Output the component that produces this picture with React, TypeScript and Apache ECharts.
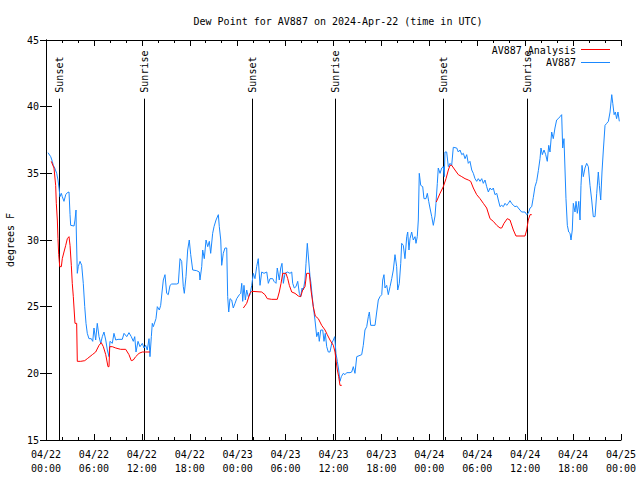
import React, { useEffect, useRef } from "react";
import * as echarts from "echarts";

const TITLE = "Dew Point for AV887 on 2024-Apr-22 (time in UTC)";
const Y_NAME = "degrees F";
const BLUE = "#1a88ff";
const RED = "#ff0000";
const FONT = "DejaVu Sans Mono";

// hours since 2024-04-22 00:00 UTC
const sunHours = [1.69, 12.33, 25.76, 36.25, 49.77, 60.29];
const sunLabels = ["Sunset", "Sunrise", "Sunset", "Sunrise", "Sunset", "Sunrise"];

const av887: [number, number][] = [
  [0.25, 36.55], [0.59, 36.25], [0.79, 35.9], [0.91, 35.6], [1.09, 35.4], [1.34, 35.0], [1.5, 34.5],
  [1.63, 33.9], [1.75, 33.25], [1.92, 33.5], [2.04, 33.25], [2.25, 32.9], [2.47, 33.4], [2.67, 33.55],
  [2.88, 33.6], [3.01, 31.9], [3.09, 31.1], [3.51, 31.05], [3.63, 31.5], [3.76, 32.25], [3.79, 30.75],
  [3.92, 27.5], [4.04, 28.0], [4.26, 28.4], [4.47, 28.1], [4.67, 26.75], [4.85, 25.0], [5.01, 23.75],
  [5.17, 23.0], [5.38, 22.6], [5.67, 22.6], [5.85, 22.4], [6.01, 23.4], [6.22, 22.5], [6.42, 23.75],
  [6.64, 22.75], [6.85, 22.25], [7.05, 22.75], [7.26, 23.1], [7.48, 22.5], [7.68, 21.75], [7.89, 21.25],
  [8.01, 22.4], [8.3, 22.25], [8.51, 23.0], [8.73, 22.5], [9.02, 22.55], [9.55, 22.55], [9.77, 23.0],
  [10.11, 22.75], [10.39, 23.05], [10.68, 22.75], [10.93, 22.4], [11.11, 22.75], [11.27, 21.6],
  [11.52, 22.4], [11.77, 22.0], [12.06, 22.25], [12.27, 21.9], [12.48, 22.1], [12.68, 21.75],
  [12.9, 22.6], [13.02, 21.25], [13.19, 22.75], [13.31, 23.75], [13.44, 23.5], [13.77, 24.1],
  [13.94, 25.0], [14.19, 24.75], [14.36, 25.1], [14.53, 26.1], [14.69, 27.0], [14.9, 27.4],
  [15.11, 26.0], [15.31, 25.9], [15.53, 26.6], [15.74, 26.7], [16.37, 26.7], [16.57, 26.75],
  [16.78, 28.6], [16.99, 28.4], [17.19, 26.5], [17.32, 26.0], [17.53, 27.25], [17.74, 29.25],
  [17.94, 30.0], [18.12, 28.9], [18.37, 27.75], [18.87, 27.7], [19.2, 27.6], [19.28, 27.0],
  [19.5, 28.0], [19.62, 29.25], [19.82, 28.6], [20.04, 30.0], [20.25, 29.5], [20.45, 29.9],
  [20.62, 29.0], [20.87, 30.5], [21.04, 31.0], [21.29, 31.5], [21.58, 31.9], [21.7, 31.0],
  [21.88, 30.0], [22.0, 28.1], [22.2, 29.0], [22.41, 29.4], [22.63, 29.4], [22.75, 25.75],
  [22.88, 24.6], [23.04, 25.6], [23.25, 25.5], [23.45, 24.9], [23.67, 25.25], [23.88, 25.6],
  [24.21, 25.9], [24.38, 26.0], [24.51, 26.75], [24.63, 25.4], [24.79, 26.6], [24.96, 25.5],
  [25.13, 26.25], [25.33, 25.75], [25.54, 25.9], [25.76, 26.6], [25.96, 27.5], [26.17, 27.1],
  [26.38, 28.0], [26.58, 28.6], [26.8, 26.6], [27.01, 27.6], [27.3, 27.5], [27.64, 27.6],
  [27.84, 26.75], [28.05, 27.1], [28.39, 27.1], [28.55, 26.9], [28.8, 26.75], [28.96, 27.9],
  [29.21, 27.0], [29.39, 27.9], [29.55, 28.25], [29.72, 26.75], [29.93, 27.5], [30.22, 27.6],
  [30.55, 27.5], [30.77, 27.6], [30.89, 26.75], [31.09, 26.4], [31.3, 26.5], [31.52, 26.9],
  [31.72, 26.0], [31.89, 25.75], [32.06, 26.4], [32.22, 26.25], [32.43, 27.0], [32.56, 28.25],
  [32.72, 29.75], [32.89, 28.5], [33.06, 27.25], [33.18, 26.75], [33.31, 25.9], [33.47, 25.0],
  [33.68, 24.0], [33.9, 22.75], [34.1, 23.1], [34.22, 22.4], [34.4, 23.25], [34.65, 23.25],
  [34.81, 22.4], [34.97, 23.0], [35.15, 22.0], [35.35, 21.6], [35.56, 21.6], [35.78, 22.25],
  [35.98, 22.5], [36.15, 22.75], [36.31, 21.5], [36.48, 20.9], [36.65, 20.25], [36.81, 19.4],
  [36.98, 19.75], [37.23, 20.0], [37.44, 19.9], [37.65, 20.05], [38.07, 20.05], [38.28, 20.1],
  [38.48, 20.5], [38.69, 20.0], [38.91, 21.25], [39.53, 21.4], [39.73, 22.1], [39.94, 23.25],
  [40.16, 23.5], [40.36, 24.25], [40.49, 24.6], [40.66, 23.6], [41.2, 23.6], [41.41, 24.6],
  [41.61, 25.5], [41.82, 25.75], [42.04, 25.9], [42.16, 27.0], [42.32, 27.4], [42.45, 26.4],
  [42.66, 26.6], [42.86, 25.9], [43.08, 26.5], [43.29, 27.1], [43.49, 27.75], [43.7, 28.9],
  [43.91, 28.0], [44.04, 26.25], [44.24, 26.75], [44.42, 28.25], [44.54, 29.75], [44.74, 29.6],
  [44.95, 28.6], [45.17, 30.25], [45.29, 30.6], [45.45, 29.25], [45.58, 30.1], [45.79, 30.6],
  [45.99, 30.0], [46.21, 30.25], [46.33, 29.75], [46.49, 30.25], [46.62, 31.5], [46.74, 35.0],
  [46.92, 34.1], [47.17, 34.0], [47.33, 33.1], [47.58, 33.1], [47.75, 33.5], [47.92, 32.9],
  [48.08, 32.4], [48.3, 31.75], [48.5, 31.1], [48.71, 31.8], [48.83, 32.75], [49.0, 34.25],
  [49.12, 35.4], [49.34, 35.0], [49.55, 35.4], [49.75, 35.5], [49.87, 34.75], [49.96, 36.6],
  [50.17, 36.6], [50.38, 35.5], [50.59, 35.75], [50.8, 35.6], [51.0, 36.95], [51.43, 36.9],
  [51.63, 36.6], [51.84, 36.75], [52.06, 36.4], [52.26, 36.5], [52.47, 36.1], [52.68, 36.4],
  [52.88, 35.75], [53.09, 35.9], [53.31, 35.25], [53.51, 35.0], [53.72, 34.6], [53.93, 34.4],
  [54.13, 34.6], [54.35, 34.4], [54.56, 34.6], [54.76, 34.25], [54.97, 34.5], [55.18, 34.0],
  [55.39, 33.6], [55.6, 33.9], [55.81, 33.75], [56.01, 33.9], [56.22, 33.4], [56.44, 33.5],
  [56.64, 33.0], [56.85, 32.5], [57.06, 32.6], [57.26, 32.5], [57.48, 32.75], [57.69, 32.6],
  [57.89, 32.75], [58.1, 32.95], [58.31, 32.75], [58.52, 32.6], [58.73, 32.5], [58.94, 32.55],
  [59.14, 32.4], [59.35, 32.25], [59.56, 32.1], [59.98, 32.1], [60.19, 31.9], [60.39, 32.0],
  [60.61, 32.4], [60.82, 32.5], [61.02, 33.2], [61.23, 34.0], [61.44, 34.4], [61.65, 35.2],
  [61.86, 36.1], [61.98, 36.9], [62.15, 36.4], [62.36, 36.75], [62.57, 36.4], [62.77, 35.9],
  [62.95, 37.1], [63.11, 36.6], [63.32, 38.1], [63.52, 37.6], [63.73, 38.4], [63.94, 39.0],
  [64.15, 39.1], [64.36, 39.25], [64.57, 39.4], [64.7, 36.9], [64.86, 37.6], [65.11, 33.1],
  [65.28, 31.1], [65.45, 30.6], [65.62, 30.5], [65.74, 30.0], [65.9, 30.75], [66.03, 32.75],
  [66.24, 32.1], [66.37, 32.9], [66.53, 32.0], [66.71, 32.9], [66.87, 31.5], [66.99, 34.1],
  [67.12, 35.6], [67.28, 34.75], [67.49, 35.4], [67.7, 35.75], [67.91, 35.5], [68.12, 34.1],
  [68.33, 33.0], [68.53, 31.75], [68.75, 31.75], [68.96, 33.5], [69.16, 35.1], [69.29, 34.1],
  [69.46, 33.0], [69.62, 35.1], [69.79, 36.75], [70.0, 38.6], [70.21, 38.75], [70.42, 38.9],
  [70.63, 39.6], [70.84, 40.9], [70.97, 40.25], [71.14, 39.4], [71.29, 39.6], [71.45, 39.1],
  [71.62, 39.6], [71.79, 38.9],
];

const analysisNight1: [number, number][] = [
  [0.66, 35.9], [1.0, 35.4], [1.21, 34.1], [1.29, 32.75], [1.42, 31.5], [1.5, 30.1], [1.59, 28.9],
  [1.72, 28.0], [1.92, 28.0], [2.04, 28.6], [2.25, 29.1], [2.47, 29.6], [2.67, 30.1], [2.88, 30.25],
  [3.01, 29.6], [3.17, 28.1], [3.29, 26.75], [3.42, 25.75], [3.54, 24.6], [3.63, 23.75], [3.84, 23.75],
  [3.92, 20.9], [4.35, 20.9], [4.85, 20.95], [5.17, 21.1], [5.8, 21.4], [6.22, 21.6], [6.64, 22.1],
  [6.92, 22.3], [7.18, 22.0], [7.48, 21.4], [7.76, 20.5], [7.89, 20.5], [7.98, 22.0], [8.3, 22.0],
  [8.73, 21.9], [9.35, 21.8], [9.98, 21.8], [10.39, 21.4], [10.68, 20.95], [10.93, 21.0],
  [11.23, 21.25], [11.65, 21.5], [12.06, 21.6], [12.48, 21.6], [13.02, 21.6],
];

const analysisNight2: [number, number][] = [
  [24.71, 24.9], [25.13, 25.25], [25.54, 26.0], [25.76, 26.15], [27.01, 26.1], [27.42, 25.9],
  [27.71, 25.6], [28.26, 25.55], [28.96, 25.55], [29.21, 26.1], [29.43, 26.75], [29.64, 27.5],
  [30.05, 27.5], [30.27, 27.1], [30.47, 26.6], [30.77, 26.1], [31.18, 26.0], [31.59, 25.8],
  [31.89, 25.75], [32.14, 26.25], [32.43, 26.5], [32.64, 27.5], [32.97, 27.5], [33.18, 26.25],
  [33.47, 25.0], [33.72, 24.3], [34.1, 24.1], [34.52, 23.6], [34.94, 23.25], [35.22, 22.9],
  [35.56, 22.5], [35.98, 22.1], [36.19, 21.6], [36.31, 21.0], [36.48, 20.25], [36.65, 19.75],
  [36.81, 19.1], [37.03, 19.1],
];

const analysisNight3: [number, number][] = [
  [48.87, 32.85], [49.34, 33.5], [49.75, 34.0], [50.09, 34.6], [50.38, 35.25], [50.59, 35.6],
  [50.8, 35.6], [51.21, 35.25], [51.63, 34.9], [52.06, 34.75], [52.47, 34.6], [52.88, 34.5],
  [53.18, 34.4], [53.51, 33.9], [53.93, 33.4], [54.35, 33.1], [54.76, 32.75], [55.18, 32.4],
  [55.6, 31.6], [56.01, 31.4], [56.44, 31.1], [56.85, 30.9], [57.06, 30.9], [57.35, 31.25],
  [57.76, 31.6], [58.1, 31.5], [58.52, 30.75], [58.85, 30.3], [59.98, 30.3], [60.19, 30.75],
  [60.39, 31.5], [60.61, 31.9], [60.82, 31.9],
];

const X_MIN = 0;
const X_MAX = 72;
const X_STEP = 6;
const Y_MIN = 15;
const Y_MAX = 45;
const Y_STEP = 5;
const SUN_LINE_TOP = 40.6;

function fmtTime(h: number): string {
  const day = 22 + Math.floor(h / 24);
  const hh = Math.round(h % 24);
  return `04/${day}\n${String(hh).padStart(2, "0")}:00`;
}

export default function App() {
  const ref = useRef<HTMLDivElement>(null);
  useEffect(() => {
    if (!ref.current) return;
    const chart = echarts.init(ref.current, null, { renderer: "svg" });
    const txt = { fontFamily: FONT, fontSize: 10, color: "#000" };
    const lineSeries = (name: string, data: [number, number][], color: string, z: number) => ({
      type: "line",
      name,
      data,
      showSymbol: false,
      symbol: "none",
      lineStyle: { color, width: 1 },
      itemStyle: { color },
      z,
    });
    const baseX = {
      type: "value",
      min: X_MIN,
      max: X_MAX,
      interval: X_STEP,
      axisLine: { show: true, lineStyle: { color: "#000", width: 1 } },
      axisTick: { show: true, inside: true, length: 6, lineStyle: { color: "#000" } },
      minorTick: { show: true, splitNumber: 3, length: 3, lineStyle: { color: "#000" } },
      splitLine: { show: false },
    };
    const baseY = {
      type: "value",
      min: Y_MIN,
      max: Y_MAX,
      interval: Y_STEP,
      axisLine: { show: true, lineStyle: { color: "#000", width: 1 } },
      axisTick: { show: true, inside: true, length: 6, lineStyle: { color: "#000" } },
      splitLine: { show: false },
    };
    chart.setOption({
      animation: false,
      backgroundColor: "#fff",
      title: {
        text: TITLE,
        left: 333,
        top: 11,
        textAlign: "center",
        textStyle: { ...txt, fontWeight: "normal" },
      },
      grid: { left: 46, right: 19, top: 40, bottom: 40, containLabel: false, outerBoundsMode: "none" },
      xAxis: [
        {
          ...baseX,
          position: "bottom",
          axisLabel: {
            ...txt,
            margin: 7,
            lineHeight: 14,
            formatter: (v: number) => fmtTime(v),
          },
        },
        { ...baseX, position: "top", axisLabel: { show: false } },
      ],
      yAxis: [
        {
          ...baseY,
          position: "left",
          name: Y_NAME,
          nameLocation: "middle",
          nameGap: 31,
          nameRotate: 90,
          nameTextStyle: txt,
          axisLabel: { ...txt, margin: 7 },
        },
        { ...baseY, position: "right", axisLabel: { show: false } },
      ],
      graphic: [
        { type: "text", x: 576, y: 50, style: { text: "AV887 Analysis", fill: "#000", font: `10px '${FONT}'`, align: "right", verticalAlign: "middle" } },
        { type: "line", shape: { x1: 581, y1: 49.5, x2: 610, y2: 49.5 }, style: { stroke: RED, lineWidth: 1 } },
        { type: "text", x: 576, y: 62, style: { text: "AV887", fill: "#000", font: `10px '${FONT}'`, align: "right", verticalAlign: "middle" } },
        { type: "line", shape: { x1: 581, y1: 62.5, x2: 610, y2: 62.5 }, style: { stroke: BLUE, lineWidth: 1 } },
      ],
      series: [
        {
          type: "custom",
          data: sunHours.map((h) => [h]),
          clip: false,
          z: 1,
          renderItem: (params: any, api: any) => {
            const h = api.value(0);
            const top = api.coord([h, SUN_LINE_TOP]);
            const bot = api.coord([h, Y_MIN]);
            const x = Math.round(top[0]) + 0.5;
            return {
              type: "group",
              children: [
                {
                  type: "line",
                  shape: { x1: x, y1: top[1], x2: x, y2: bot[1] },
                  style: { stroke: "#000", lineWidth: 1 },
                },
                {
                  type: "text",
                  x: x,
                  y: top[1] - 6,
                  rotation: Math.PI / 2,
                  style: {
                    text: sunLabels[params.dataIndex],
                    fill: "#000",
                    font: `10px '${FONT}'`,
                    align: "left",
                    verticalAlign: "middle",
                  },
                },
              ],
            };
          },
        },
        lineSeries("AV887", av887, BLUE, 2),
        lineSeries("AV887 Analysis", analysisNight1, RED, 3),
        lineSeries("AV887 Analysis", analysisNight2, RED, 3),
        lineSeries("AV887 Analysis", analysisNight3, RED, 3),
      ],
    });
    return () => chart.dispose();
  }, []);
  return (
    <div
      ref={ref}
      style={{ position: "fixed", left: 0, top: 0, width: 640, height: 480, background: "#fff" }}
    />
  );
}
